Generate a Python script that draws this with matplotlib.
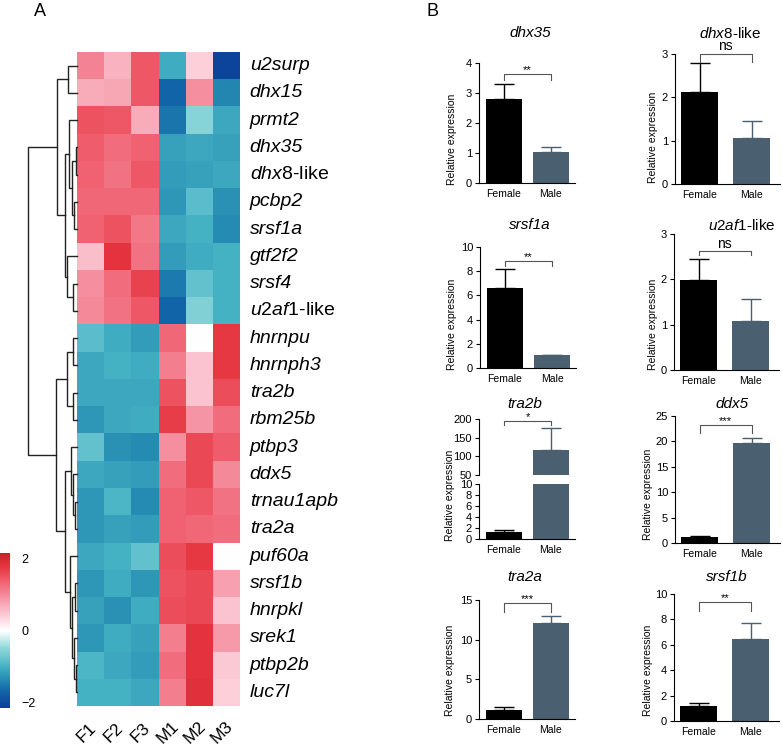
import numpy as np
import matplotlib
matplotlib.use("Agg")
import matplotlib.pyplot as plt
from matplotlib.colors import LinearSegmentedColormap, Normalize

plt.rcParams['font.family'] = ['Liberation Sans', 'DejaVu Sans']
plt.rcParams['mathtext.fontset'] = 'custom'
plt.rcParams['mathtext.it'] = 'Liberation Sans:italic'
plt.rcParams['mathtext.rm'] = 'Liberation Sans'

# ── Heatmap data (row z-scores) ───────────────────────────────────────────────
SAMPLES = ["F1", "F2", "F3", "M1", "M2", "M3"]
GENES = ["u2surp", "dhx15", "prmt2", "dhx35", r"$\mathit{dhx8}$-like", "pcbp2",
         "srsf1a", "gtf2f2", "srsf4", r"$\mathit{u2af1}$-like", "hnrnpu",
         "hnrnph3", "tra2b", "rbm25b", "ptbp3", "ddx5", "trnau1apb", "tra2a",
         "puf60a", "srsf1b", "hnrpkl", "srek1", "ptbp2b", "luc7l"]
ZSCORE = np.array([
    [1.05, 0.65, 1.45, -1.05, 0.40, -2.05],
    [0.70, 0.75, 1.45, -1.70, 0.95, -1.40],
    [1.50, 1.45, 0.70, -1.55, -0.55, -1.10],
    [1.40, 1.25, 1.35, -1.15, -1.10, -1.15],
    [1.35, 1.20, 1.45, -1.20, -1.15, -1.10],
    [1.30, 1.30, 1.30, -1.25, -0.85, -1.30],
    [1.35, 1.50, 1.15, -1.10, -1.00, -1.35],
    [0.55, 1.80, 1.20, -1.20, -1.05, -1.00],
    [0.95, 1.25, 1.65, -1.50, -0.80, -1.00],
    [1.00, 1.20, 1.45, -1.70, -0.60, -1.00],
    [-0.85, -1.05, -1.20, 1.30, 0.00, 1.75],
    [-1.10, -1.00, -1.05, 1.10, 0.50, 1.75],
    [-1.10, -1.10, -1.10, 1.50, 0.50, 1.55],
    [-1.25, -1.10, -1.05, 1.70, 0.90, 1.25],
    [-0.80, -1.30, -1.35, 0.95, 1.60, 1.40],
    [-1.10, -1.15, -1.20, 1.25, 1.60, 1.00],
    [-1.25, -0.95, -1.35, 1.35, 1.45, 1.20],
    [-1.25, -1.15, -1.20, 1.35, 1.30, 1.25],
    [-1.10, -1.00, -0.80, 1.55, 1.75, 0.00],
    [-1.25, -1.05, -1.25, 1.50, 1.60, 0.80],
    [-1.15, -1.30, -1.05, 1.55, 1.60, 0.50],
    [-1.25, -1.05, -1.15, 1.10, 1.80, 0.85],
    [-0.95, -1.10, -1.20, 1.25, 1.80, 0.45],
    [-1.00, -1.00, -1.10, 1.10, 1.85, 0.40],
])

# row dendrogram: (merge height, left, right); leaves are row indices
DENDRO_TREE = (10.0,
               (4.1, (1.8, 0, 1),
                     (2.45, (1.6, 2, (1.0, (0.2, 3, 4), (0.6, 5, 6))),
                            (2.0, 7, (0.8, 8, 9)))),
               (4.3, (2.0, (0.8, 10, 11), (0.8, 12, 13)),
                     (2.45, (1.2, 14, (0.8, 15, (0.4, 16, 17))),
                            (1.4, 18, (1.0, (0.4, 19, 20),
                                       (0.6, 21, (0.2, 22, 23)))))))

# ── qPCR bar data ─────────────────────────────────────────────────────────────
BAR_TITLES = ["dhx35", r"$\mathit{dhx8}$-like", "srsf1a", r"$\mathit{u2af1}$-like",
              "tra2b", "ddx5", "tra2a", "srsf1b"]
GROUPS = ["Female", "Male"]
FEMALE_MEAN = [2.80, 2.12, 6.64, 1.99, 1.33, 1.24, 1.18, 1.18]
FEMALE_ERR = [0.50, 0.67, 1.55, 0.46, 0.31, 0.15, 0.37, 0.21]
MALE_MEAN = [1.03, 1.06, 1.07, 1.09, 117.0, 19.75, 12.15, 6.45]
MALE_ERR = [0.17, 0.39, 0.03, 0.47, 58.0, 0.95, 0.85, 1.24]
SIG = ["**", "ns", "**", "ns", "*", "***", "***", "**"]
BRACKET_TOP = [3.63, 3.0, 8.84, 2.62, 195, 23.2, 14.6, 9.37]
BRACKET_END = [3.45, 2.82, 8.4, 2.53, 184, 21.6, 13.5, 8.66]
Y_TICKS = [np.arange(0, 5, 1), np.arange(0, 4, 1), np.arange(0, 11, 2),
           np.arange(0, 4, 1), None, np.arange(0, 26, 5), np.arange(0, 16, 5),
           np.arange(0, 11, 2)]
BREAK_LOW_TICKS = np.arange(0, 11, 2)
BREAK_HIGH_TICKS = np.arange(50, 201, 50)

W, H = 783, 751
fig = plt.figure(figsize=(W / 100, H / 100), dpi=100)


def px_axes(l, t, r, b):
    return fig.add_axes([l / W, 1 - b / H, (r - l) / W, (b - t) / H])


# ── Heatmap ───────────────────────────────────────────────────────────────────
cmap = LinearSegmentedColormap.from_list("bwr_custom", [
    (0.00, "#0b3d98"), (0.105, "#1265a8"), (0.198, "#2a92b5"),
    (0.267, "#45b2c4"), (0.384, "#8ed8da"), (0.50, "#ffffff"),
    (0.616, "#fbc3cf"), (0.733, "#f4899a"), (0.826, "#ef5d6c"),
    (0.919, "#e5343f"), (1.00, "#c8202a")])
norm = Normalize(vmin=-2.15, vmax=2.15)

ax_hm = px_axes(77, 52, 240, 706)
mesh = ax_hm.pcolormesh(ZSCORE, cmap=cmap, norm=norm)
ax_hm.set_xlim(0, len(SAMPLES))
ax_hm.set_ylim(len(GENES), 0)
ax_hm.axis("off")
for i, g in enumerate(GENES):
    style = "normal" if "$" in g else "italic"
    ax_hm.annotate(g, xy=(1.0, i + 0.5), xycoords=("axes fraction", "data"),
                   xytext=(7, 0), textcoords="offset points",
                   ha="left", va="center", fontsize=14, style=style)
for j, s in enumerate(SAMPLES):
    ax_hm.annotate(s, xy=(j + 0.5, 0.0), xycoords=("data", "axes fraction"),
                   xytext=(-3, -19), textcoords="offset points",
                   ha="center", va="center", fontsize=12.5, rotation=45)

# dendrogram
ax_dn = px_axes(28, 52, 77, 706)
ax_dn.set_xlim(DENDRO_TREE[0], 0)
ax_dn.set_ylim(len(GENES), 0)
ax_dn.axis("off")


def draw_node(node):
    if not isinstance(node, tuple):
        return node + 0.5, 0.0
    h, left, right = node
    y1, h1 = draw_node(left)
    y2, h2 = draw_node(right)
    ax_dn.plot([h1, h, h, h2], [y1, y1, y2, y2], color="#222222",
               lw=1.0, clip_on=False, solid_joinstyle="miter")
    return (y1 + y2) / 2, h


draw_node(DENDRO_TREE)

# colour bar
cax = px_axes(0, 553, 10, 708)
cb = fig.colorbar(mesh, cax=cax, ticks=[-2, 0, 2])
cb.outline.set_visible(False)
cax.tick_params(length=0, labelsize=9, pad=8)

fig.text(40 / W, 1 - 12 / H, "A", fontsize=13, ha="center", va="center")
fig.text(432 / W, 1 - 12 / H, "B", fontsize=13, ha="center", va="center")

# ── Bar charts ────────────────────────────────────────────────────────────────
BAR_COLORS = ["#000000", "#4a6070"]
LEFT = dict(xlim=(-0.53, 1.51), width=0.78)
RIGHT = dict(xlim=(-0.48, 1.55), width=0.72)

# (l, t, r, b) pixel boxes, title centre, ylabel centre
BOXES = [(479, 63, 575, 183), (675, 54, 780, 184),
         (480, 247, 576, 368), (674, 234, 779, 370),
         None, (675, 416, 780, 543),
         (479, 600, 575, 719), (674, 594, 779, 721)]
TITLE_POS = [(530, 33), (730, 33), (530, 225), (742, 225),
             (525, 404), (732, 404), (525, 577), (727, 577)]
YLAB_POS = [(452, 139), (653, 137), (452, 324), (653, 324),
            (450, 495), (648, 494), (450, 670), (648, 670)]


def style_axes(ax, side, ticks, bottom=True):
    ax.set_xlim(*side["xlim"])
    for sp in ["top", "right"]:
        ax.spines[sp].set_visible(False)
    ax.spines["left"].set_linewidth(0.8)
    ax.spines["bottom"].set_linewidth(0.8)
    ax.set_yticks(ticks)
    ax.set_ylim(ticks[0], ticks[-1])
    ax.tick_params(axis="y", length=3, width=0.8, labelsize=8, pad=2)
    if bottom:
        ax.set_xticks([0, 1])
        ax.set_xticklabels(GROUPS)
        ax.tick_params(axis="x", length=0, labelsize=7.5, pad=4)
    else:
        ax.spines["bottom"].set_visible(False)
        ax.set_xticks([])


def draw_bars(ax, k, side):
    means = [FEMALE_MEAN[k], MALE_MEAN[k]]
    errs = [FEMALE_ERR[k], MALE_ERR[k]]
    for x in range(2):
        ax.bar(x, means[x], width=side["width"], color=BAR_COLORS[x], zorder=2)
        ax.errorbar(x, means[x], yerr=[[0], [errs[x]]], fmt="none",
                    ecolor=BAR_COLORS[x], elinewidth=1.0, capsize=7,
                    capthick=1.0, zorder=1)


def draw_bracket(ax, k):
    top, end = BRACKET_TOP[k], BRACKET_END[k]
    ax.plot([0, 0, 1, 1], [end, top, top, end], color="#555555", lw=0.8,
            clip_on=False)
    fs = 10 if SIG[k] == "ns" else 8
    ax.annotate(SIG[k], xy=(0.5, top), xytext=(0, 0.5 if SIG[k] == "ns" else -1),
                textcoords="offset points", ha="center", va="bottom",
                fontsize=fs, annotation_clip=False)


for k in range(8):
    side = LEFT if k % 2 == 0 else RIGHT
    if BOXES[k] is not None:
        ax = px_axes(*BOXES[k])
        style_axes(ax, side, Y_TICKS[k])
        draw_bars(ax, k, side)
        draw_bracket(ax, k)
    else:
        # broken y axis
        ax_hi = px_axes(479, 419, 575, 475)
        ax_lo = px_axes(479, 484, 575, 539)
        style_axes(ax_hi, side, BREAK_HIGH_TICKS, bottom=False)
        style_axes(ax_lo, side, BREAK_LOW_TICKS)
        draw_bars(ax_hi, k, side)
        draw_bars(ax_lo, k, side)
        draw_bracket(ax_hi, k)
    tx, ty = TITLE_POS[k]
    style = "normal" if "$" in BAR_TITLES[k] else "italic"
    fig.text(tx / W, 1 - ty / H, BAR_TITLES[k], fontsize=11, style=style,
             ha="center", va="center")
    lx, ly = YLAB_POS[k]
    fig.text(lx / W, 1 - ly / H, "Relative expression", fontsize=7.5,
             rotation=90, ha="center", va="center")

fig.savefig("out.png", dpi=100)
